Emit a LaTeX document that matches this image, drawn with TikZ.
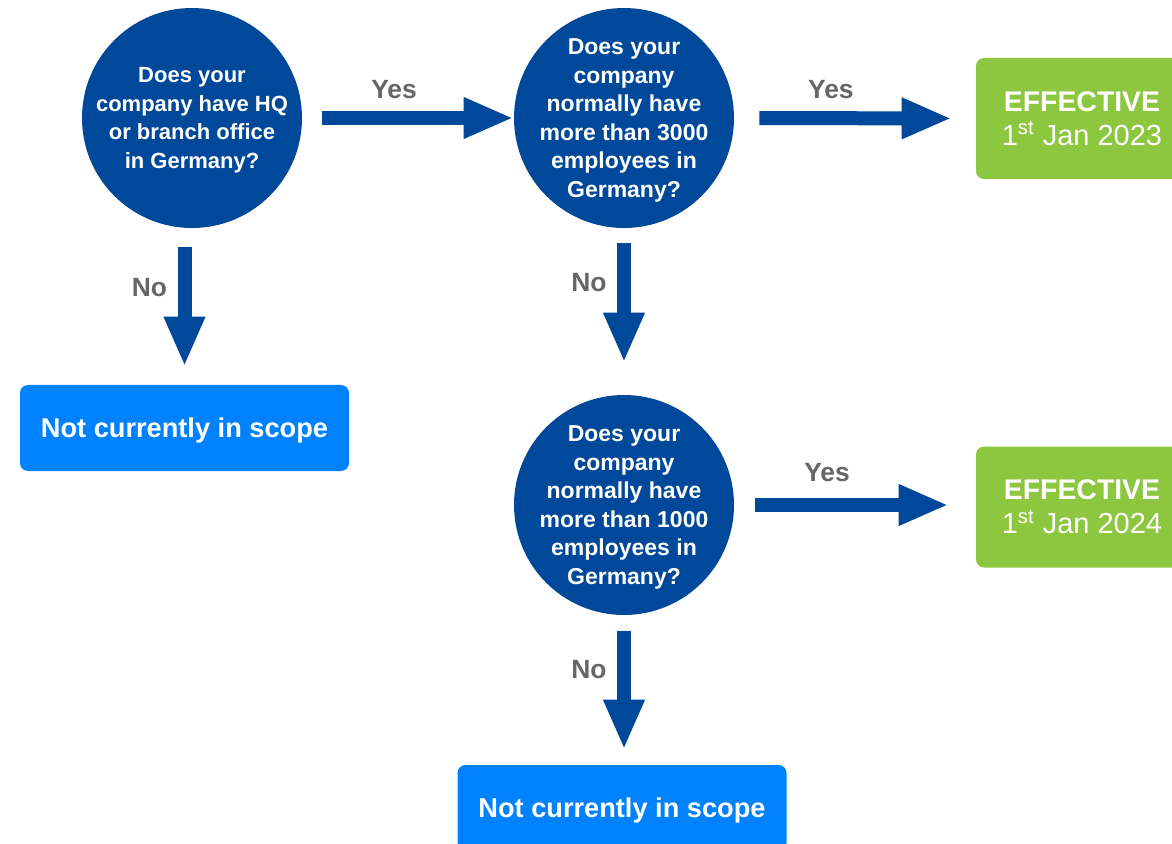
\documentclass[tikz,border=0pt]{standalone}
\usepackage[x11names, rgb]{xcolor}
\usepackage{tikz}
\usetikzlibrary{arrows.meta,shapes}
\usepackage{fontspec}
\setmainfont{Liberation Sans}

\begin{document}
\begin{tikzpicture}[x=0.5pt,y=-0.5pt,
	question/.style={circle,fill=qblue,text=white,minimum size=110pt,inner sep=-20pt,text depth=0pt,align=center,font=\bfseries\fontsize{#1}{14.3}\selectfont},
	effective/.style={rounded corners=4pt,fill=effgreen,text=white,minimum width=106pt,minimum height=60.5pt,inner sep=0pt,align=center,font=\fontsize{14.5}{17}\selectfont},
	outscope/.style={rounded corners=4pt,fill=outblue,text=white,minimum width=164.5pt,minimum height=43pt,inner sep=0pt,text depth=0pt,font=\bfseries\fontsize{13.6}{16}\selectfont},
	flow/.style={draw=qblue,line width=7pt,-{Triangle[width=19pt,length=25pt]}},
	answer/.style={text=answergray,font=\bfseries\fontsize{13.2}{16}\selectfont}]
  \definecolor{qblue}{RGB}{0,72,153};
  \definecolor{effgreen}{RGB}{141,198,63};
  \definecolor{outblue}{RGB}{0,130,255};
  \definecolor{answergray}{RGB}{102,102,102};
	\useasboundingbox (0,0) rectangle (1172,844);
	\clip (0,0) rectangle (1172,844);
	\node [question=11] (q1) at (192,118) {Does your\\company have HQ\\or branch office\\in Germany?};
	\node [question=11.5] (q2) at (624,118) {Does your\\company\\normally have\\more than 3000\\employees in\\Germany?};
	\node [question=11.5] (q3) at (624,505) {Does your\\company\\normally have\\more than 1000\\employees in\\Germany?};
	\node [effective] (eff1) at (1082,118.5) {{\bfseries\fontsize{14.2}{17}\selectfont EFFECTIVE}\\1\textsuperscript{st} Jan 2023};
	\node [effective] (eff2) at (1082,507) {{\bfseries\fontsize{14.2}{17}\selectfont EFFECTIVE}\\1\textsuperscript{st} Jan 2024};
	\node [outscope] (out1) at (184.5,428) {Not currently in scope};
	\node [outscope] (out2) at (622,808) {Not currently in scope};
	\draw [flow,shorten <=10pt] (q1.east) -- (q2.west) node [answer,pos=0.434,yshift=14pt] (yes1) {Yes};
	\draw [flow,shorten <=12.5pt,shorten >=12pt] (q2.east) -- (eff1.west) node [answer,pos=0.4,yshift=14.5pt] (yes2) {Yes};
	\draw [flow,shorten <=10.5pt,shorten >=13.5pt] (q3.east) -- (q3.east -| eff2.west) node [answer,pos=0.384,yshift=16pt] (yes3) {Yes};
	\draw [flow,shorten <=9.5pt,shorten >=9pt] (q1.south -| out1) -- (out1.north) node [answer,pos=0.376,xshift=-17.5pt] (no1) {No};
	\draw [flow,shorten <=7.5pt,shorten >=16pt] (q2.south) -- (q3.north) node [answer,pos=0.327,xshift=-17.5pt] (no2) {No};
	\draw [flow,shorten <=8pt,shorten >=7.5pt] (q3.south) -- (q3.south |- out2.north) node [answer,pos=0.364,xshift=-17.5pt] (no3) {No};
\end{tikzpicture}
\end{document}
